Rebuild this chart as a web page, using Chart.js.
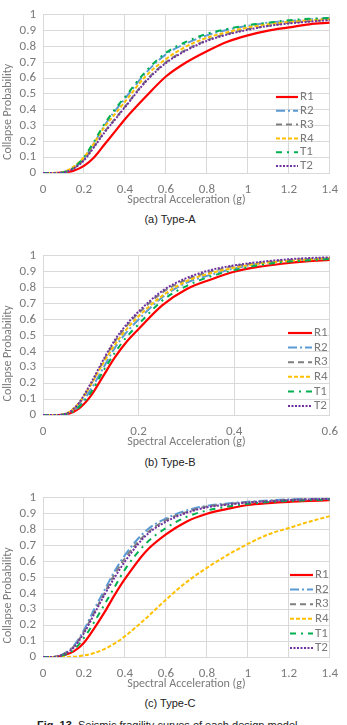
<!DOCTYPE html>
<html>
<head>
<meta charset="utf-8">
<script src="https://cdn.jsdelivr.net/npm/chart.js@4"></script>
<style>
  body { margin: 0; width: 347px; height: 725px; background: #fff; overflow: hidden; position: relative; }
  .box { position: absolute; left: 0; width: 347px; }
  .cap { position: absolute; left: 0; width: 340px; text-align: center; font: 11px "Liberation Sans", Arial, sans-serif; color: #222; }
  .fig { position: absolute; left: 37px; top: 719px; font: 11px "Liberation Sans", Arial, sans-serif; color: #222; white-space: nowrap; }
</style>
</head>
<body>
<div class="box" style="top:0;height:207px"><canvas id="chartA"></canvas></div>
<div class="cap" style="top:213px">(a) Type-A</div>
<div class="box" style="top:241px;height:208px"><canvas id="chartB"></canvas></div>
<div class="cap" style="top:456px">(b) Type-B</div>
<div class="box" style="top:483px;height:208px"><canvas id="chartC"></canvas></div>
<div class="cap" style="top:697px">(c) Type-C</div>
<div class="fig"><b>Fig. 13.</b> Seismic fragility curves of each design model</div>
<script>
// ======= DATA =======
const names = ["R1", "R2", "R3", "R4", "T1", "T2"];

// Type-A / Type-C : x in g
const xAC = [0, 0.05, 0.1, 0.15, 0.2, 0.25, 0.3, 0.35, 0.4, 0.5, 0.6, 0.7, 0.8, 0.9, 1.0, 1.1, 1.2, 1.3, 1.4];
const aR1 = [0, 0, 0.003, 0.015, 0.045, 0.10, 0.18, 0.26, 0.34, 0.48, 0.61, 0.70, 0.77, 0.83, 0.87, 0.90, 0.92, 0.94, 0.95];
const aR2 = [0, 0, 0.005, 0.03, 0.09, 0.19, 0.30, 0.39, 0.47, 0.63, 0.75, 0.82, 0.87, 0.905, 0.93, 0.95, 0.96, 0.97, 0.98];
const aR3 = [0, 0, 0.004, 0.03, 0.085, 0.17, 0.26, 0.34, 0.42, 0.58, 0.70, 0.78, 0.84, 0.88, 0.91, 0.93, 0.95, 0.96, 0.97];
const aR4 = [0, 0, 0.007, 0.04, 0.10, 0.19, 0.29, 0.37, 0.45, 0.61, 0.72, 0.80, 0.855, 0.89, 0.92, 0.94, 0.955, 0.965, 0.975];
const aT1 = [0, 0, 0.005, 0.035, 0.10, 0.20, 0.31, 0.40, 0.48, 0.64, 0.76, 0.83, 0.88, 0.91, 0.935, 0.95, 0.965, 0.975, 0.98];
const aT2 = [0, 0, 0.004, 0.03, 0.08, 0.165, 0.255, 0.335, 0.415, 0.575, 0.695, 0.775, 0.835, 0.875, 0.905, 0.93, 0.945, 0.957, 0.967];

const cR1 = [0, 0, 0.01, 0.035, 0.09, 0.18, 0.28, 0.39, 0.49, 0.66, 0.77, 0.85, 0.90, 0.93, 0.955, 0.967, 0.975, 0.98, 0.985];
const cR2 = [0, 0, 0.02, 0.07, 0.17, 0.30, 0.42, 0.54, 0.64, 0.79, 0.87, 0.92, 0.95, 0.965, 0.975, 0.983, 0.99, 0.993, 0.995];
const cR3 = [0, 0, 0.018, 0.065, 0.16, 0.28, 0.40, 0.52, 0.62, 0.77, 0.86, 0.91, 0.945, 0.96, 0.972, 0.98, 0.987, 0.99, 0.993];
const cR4 = [0, 0, 0, 0.002, 0.01, 0.025, 0.05, 0.085, 0.13, 0.24, 0.36, 0.47, 0.56, 0.64, 0.71, 0.77, 0.81, 0.85, 0.885];
const cT1 = [0, 0, 0.012, 0.045, 0.12, 0.22, 0.33, 0.44, 0.55, 0.71, 0.81, 0.88, 0.92, 0.945, 0.962, 0.973, 0.98, 0.985, 0.99];
const cT2 = [0, 0, 0.016, 0.06, 0.15, 0.27, 0.39, 0.50, 0.60, 0.76, 0.85, 0.905, 0.94, 0.957, 0.97, 0.978, 0.985, 0.99, 0.993];

// Type-B
const xB = [0, 0.025, 0.05, 0.075, 0.1, 0.125, 0.15, 0.175, 0.2, 0.25, 0.3, 0.35, 0.4, 0.45, 0.5, 0.55, 0.6];
const bR1 = [0, 0, 0.005, 0.04, 0.12, 0.24, 0.36, 0.46, 0.54, 0.69, 0.79, 0.85, 0.90, 0.93, 0.95, 0.965, 0.975];
const bR2 = [0, 0, 0.007, 0.055, 0.16, 0.29, 0.42, 0.52, 0.60, 0.74, 0.83, 0.88, 0.92, 0.95, 0.965, 0.975, 0.985];
const bR3 = [0, 0, 0.01, 0.07, 0.19, 0.33, 0.46, 0.56, 0.64, 0.77, 0.85, 0.90, 0.935, 0.955, 0.97, 0.98, 0.985];
const bR4 = [0, 0, 0.012, 0.075, 0.19, 0.32, 0.44, 0.54, 0.62, 0.75, 0.84, 0.89, 0.925, 0.95, 0.965, 0.975, 0.985];
const bT1 = [0, 0, 0.006, 0.05, 0.14, 0.27, 0.39, 0.49, 0.57, 0.72, 0.81, 0.87, 0.91, 0.94, 0.96, 0.97, 0.98];
const bT2 = [0, 0, 0.01, 0.075, 0.20, 0.34, 0.47, 0.57, 0.65, 0.78, 0.86, 0.91, 0.94, 0.96, 0.975, 0.985, 0.99];

// ======= STYLE =======
const colors = ["#ff0000", "#5b9bd5", "#7f7f7f", "#ffc000", "#00b050", "#7030a0"];
const dashes = [[], [9, 3, 2, 3], [6, 4], [4, 2], [6, 5, 2, 5], [2, 1.5]];
const FONT = "Carlito, Lato, sans-serif";
const GRAY = "#7a7a7a";
const fmt = v => String(Math.round(v * 10) / 10);

// y-axis title drawn a little below the centre, like the original
const yTitle = {
  id: "yTitle",
  afterDraw(chart) {
    const ctx = chart.ctx, a = chart.chartArea;
    ctx.save();
    ctx.translate(8, (a.top + a.bottom) / 2 + 18);
    ctx.rotate(-Math.PI / 2);
    ctx.font = "12px " + FONT;
    ctx.fillStyle = GRAY;
    ctx.textAlign = "center";
    ctx.textBaseline = "middle";
    ctx.fillText("Collapse Probability", 0, 0);
    ctx.restore();
  }
};

// legend inside the plot, lower right
const inLegend = {
  id: "inLegend",
  afterDraw(chart, args, opts) {
    const ctx = chart.ctx;
    ctx.save();
    ctx.font = "13px " + FONT;
    ctx.textBaseline = "middle";
    chart.data.datasets.forEach((ds, i) => {
      const y = opts.y + i * opts.gap;
      ctx.strokeStyle = ds.borderColor;
      ctx.lineWidth = ds.borderWidth;
      ctx.setLineDash(ds.borderDash);
      ctx.beginPath();
      ctx.moveTo(opts.x, y);
      ctx.lineTo(opts.x + opts.len, y);
      ctx.stroke();
      ctx.fillStyle = GRAY;
      ctx.fillText(ds.label, opts.x + opts.len + 2, y);
    });
    ctx.restore();
  }
};

function makeChart(id, xs, series, xmax, legend) {
  const datasets = series.map((ys, i) => ({
    label: names[i],
    data: xs.map((x, j) => ({ x: x, y: ys[j] })),
    borderColor: colors[i],
    borderDash: dashes[i],
    borderWidth: i === 0 ? 2.2 : 2,
    pointRadius: 0,
    cubicInterpolationMode: "monotone",
    order: series.length - i
  }));
  return new Chart(document.getElementById(id), {
    type: "line",
    data: { datasets: datasets },
    plugins: [yTitle, inLegend],
    options: {
      responsive: true,
      maintainAspectRatio: false,
      animation: false,
      layout: { padding: { top: 12, right: 12.5, left: 0, bottom: 0 } },
      plugins: {
        legend: { display: false },
        tooltip: { enabled: false },
        inLegend: legend
      },
      scales: {
        x: {
          type: "linear",
          min: 0, max: xmax,
          afterFit: s => { s.height = 34; },
          grid: { color: "#d9d9d9", drawTicks: false },
          border: { color: "#d9d9d9" },
          ticks: { stepSize: 0.2, padding: 9, autoSkip: false, callback: fmt, color: GRAY, font: { family: FONT, size: 13 }, maxRotation: 0 },
          title: { display: true, text: "Spectral Acceleration (g)", color: GRAY, font: { family: FONT, size: 12 }, padding: 0 }
        },
        y: {
          min: 0, max: 1,
          afterFit: s => { s.width = 43; },
          grid: { color: "#d9d9d9", drawTicks: false },
          border: { color: "#d9d9d9" },
          ticks: { stepSize: 0.1, padding: 7, autoSkip: false, callback: fmt, color: GRAY, font: { family: FONT, size: 13 } }
        }
      }
    }
  });
}

makeChart("chartA", xAC, [aR1, aR2, aR3, aR4, aT1, aT2], 1.4, { x: 276, y: 97, gap: 13.8, len: 22 });
makeChart("chartB", xB, [bR1, bR2, bR3, bR4, bT1, bT2], 0.6, { x: 288, y: 92, gap: 14.6, len: 24 });
makeChart("chartC", xAC, [cR1, cR2, cR3, cR4, cT1, cT2], 1.4, { x: 290, y: 92, gap: 14.6, len: 23 });
</script>
</body>
</html>
